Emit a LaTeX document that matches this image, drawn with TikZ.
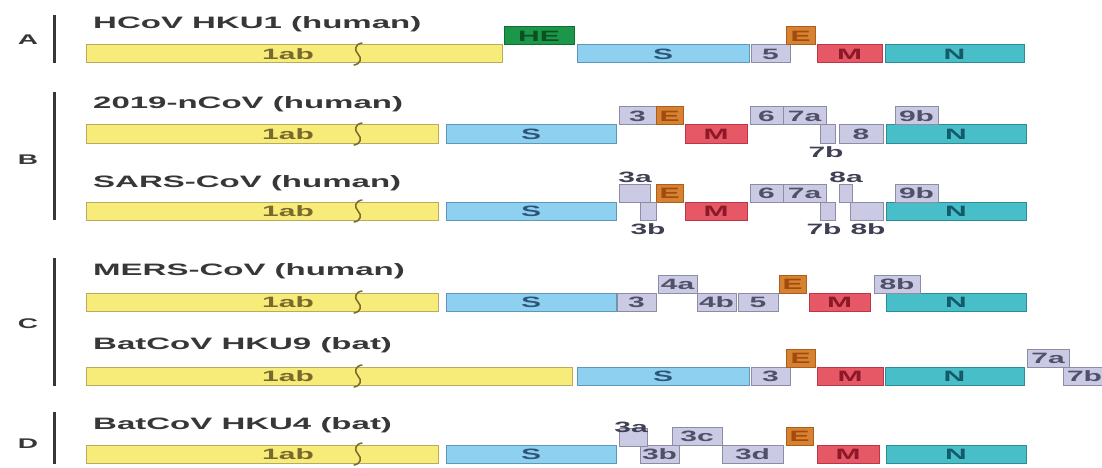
\documentclass[tikz,border=0pt]{standalone}
\usepackage{fontspec}
\setmainfont{Liberation Sans}
\usepackage{graphicx}
\usepackage{tikz}
\def\boxh{18}
\def\stretch{2}
\newcommand\wide[1]{\scalebox{\stretch}[1]{#1}}

\definecolor{orfFill}{RGB}{247,235,122}
\definecolor{orfLine}{RGB}{185,170,95}
\definecolor{orfText}{RGB}{120,105,45}
\definecolor{spkFill}{RGB}{142,208,240}
\definecolor{spkLine}{RGB}{95,150,185}
\definecolor{spkText}{RGB}{45,85,120}
\definecolor{heFill}{RGB}{28,150,72}
\definecolor{heLine}{RGB}{15,110,50}
\definecolor{heText}{RGB}{10,80,35}
\definecolor{envFill}{RGB}{214,130,48}
\definecolor{envLine}{RGB}{170,95,30}
\definecolor{envText}{RGB}{160,75,15}
\definecolor{memFill}{RGB}{230,88,102}
\definecolor{memLine}{RGB}{185,55,70}
\definecolor{memText}{RGB}{140,25,40}
\definecolor{nucFill}{RGB}{72,190,200}
\definecolor{nucLine}{RGB}{45,140,150}
\definecolor{nucText}{RGB}{20,90,105}
\definecolor{accFill}{RGB}{202,202,228}
\definecolor{accLine}{RGB}{140,140,165}
\definecolor{accText}{RGB}{80,80,105}
\definecolor{inkGray}{RGB}{55,55,55}

\begin{document}
\begin{tikzpicture}[x=1pt,y=-1pt]
    \tikzstyle{gene}=[draw, line width=1pt, inner sep=0pt, outer sep=0pt,
        minimum height=\boxh, font=\bfseries\fontsize{15}{15}\selectfont]
    \tikzstyle{orf}=[gene, fill=orfFill, draw=orfLine, text=orfText]
    \tikzstyle{spike}=[gene, fill=spkFill, draw=spkLine, text=spkText]
    \tikzstyle{he}=[gene, fill=heFill, draw=heLine, text=heText]
    \tikzstyle{env}=[gene, fill=envFill, draw=envLine, text=envText]
    \tikzstyle{memb}=[gene, fill=memFill, draw=memLine, text=memText]
    \tikzstyle{nucl}=[gene, fill=nucFill, draw=nucLine, text=nucText]
    \tikzstyle{acc}=[gene, fill=accFill, draw=accLine, text=accText]
    \tikzstyle{orftxt}=[inner sep=0pt, text=orfText, font=\bfseries\fontsize{15}{15}\selectfont]
    \tikzstyle{tag}=[inner sep=0pt, text=accText!80!black, font=\bfseries\fontsize{15}{15}\selectfont]
    \tikzstyle{title}=[anchor=west, inner sep=0pt, text=inkGray,
        font=\bfseries\fontsize{16.5}{18}\selectfont]
    \tikzstyle{group}=[inner sep=0pt, text=inkGray, font=\bfseries\fontsize{14}{14}\selectfont]
    \tikzstyle{bar}=[draw=inkGray, line width=3pt]
    \tikzstyle{squig}=[draw=orfText, line width=1.5pt, line cap=round]

    \clip (0,0) rectangle (1102,468);
    \fill[white] (0,0) rectangle (1102,468);

    % Draw the group letters and bars
    \foreach \g/\ya/\yb/\yl in {A/15/63/40, B/92/220/160, C/258/386/324, D/412/464/444} {
        \node[group] (g-\g) at (28,\yl) {\wide{\g}};
        \draw[bar] (54,\ya) -- (54,\yb);
    }

    % Draw the virus names
    \foreach \r/\y/\t in {A/24/HCoV HKU1 (human), B1/104/2019-nCoV (human),
        B2/183/SARS-CoV (human), C1/271/MERS-CoV (human),
        C2/345/BatCoV HKU9 (bat), D/425/BatCoV HKU4 (bat)}
        \node[title] (t-\r) at (93,\y) {\wide{\t}};

    % Draw the 1ab boxes with the break mark
    \foreach \r/\xe/\y in {A/502/54, B1/438/134, B2/438/211, C1/438/302, C2/572/376, D/438/454} {
        \node[orf, minimum width={(\xe-86)*1pt}] (\r-1ab) at ({(86+\xe)/2},\y) {};
        \node[orftxt] (\r-1abt) at (288,\y) {\wide{1ab}};
        \draw[squig] (354,\y+11) .. controls (361,\y+10) and (362,\y+4) .. (358,\y)
            .. controls (354,\y-4) and (355,\y-10) .. (362,\y-11);
    }

    % Draw the labelled gene boxes
    \foreach \n/\st/\xa/\xb/\y/\lab in {
        A-HE/he/504/574/36/HE, A-S/spike/577/749/54/S, A-5/acc/751/790/54/5,
        A-E/env/786/815/36/E, A-M/memb/817/882/54/M, A-N/nucl/885/1024/54/N,
        B1-S/spike/446/616/134/S, B1-3/acc/619/656/116/3, B1-E/env/656/683/116/E,
        B1-M/memb/685/747/134/M, B1-6/acc/750/783/116/6, B1-7a/acc/783/826/116/7a,
        B1-8/acc/839/883/134/8, B1-N/nucl/886/1026/134/N, B1-9b/acc/895/938/116/9b,
        B2-S/spike/446/616/211/S, B2-E/env/656/683/193/E, B2-M/memb/685/747/211/M,
        B2-6/acc/750/783/193/6, B2-7a/acc/783/826/193/7a,
        B2-N/nucl/886/1026/211/N, B2-9b/acc/895/938/193/9b,
        C1-S/spike/446/616/302/S, C1-3/acc/617/656/302/3, C1-4a/acc/658/697/284/4a,
        C1-4b/acc/697/736/302/4b, C1-5/acc/738/778/302/5, C1-E/env/779/806/284/E,
        C1-M/memb/809/870/302/M, C1-N/nucl/886/1026/302/N, C1-8b/acc/874/920/284/8b,
        C2-S/spike/577/749/376/S, C2-3/acc/751/790/376/3, C2-E/env/786/815/358/E,
        C2-M/memb/817/883/376/M, C2-N/nucl/885/1024/376/N, C2-7a/acc/1027/1069/358/7a,
        C2-7b/acc/1063/1106/376/7b,
        D-S/spike/446/616/454/S, D-3b/acc/640/679/454/3b, D-3c/acc/672/722/436/3c,
        D-3d/acc/722/783/454/3d, D-E/env/786/813/436/E, D-M/memb/817/879/454/M,
        D-N/nucl/886/1026/454/N}
        \node[\st, minimum width={(\xb-\xa)*1pt}] (\n) at ({(\xa+\xb)/2},\y) {\wide{\lab}};

    % Draw the narrow boxes that are named outside
    \foreach \n/\xa/\xb/\y in {B1-7b/820/835/134, B2-3a/619/650/193, B2-3b/640/656/211,
        B2-7b/820/835/211, B2-8a/839/852/193, B2-8b/850/883/211, D-3a/619/647/437}
        \node[acc, minimum width={(\xb-\xa)*1pt}] (\n) at ({(\xa+\xb)/2},\y) {};

    % Annotate the narrow boxes
    \foreach \n/\x/\y/\lab in {B1-7bt/826/152/7b, B2-3at/635/177/3a, B2-3bt/648/229/3b,
        B2-7bt/824/229/7b, B2-8at/846/177/8a, B2-8bt/868/229/8b, D-3at/631/427/3a}
        \node[tag] (\n) at (\x,\y) {\wide{\lab}};
\end{tikzpicture}
\end{document}
